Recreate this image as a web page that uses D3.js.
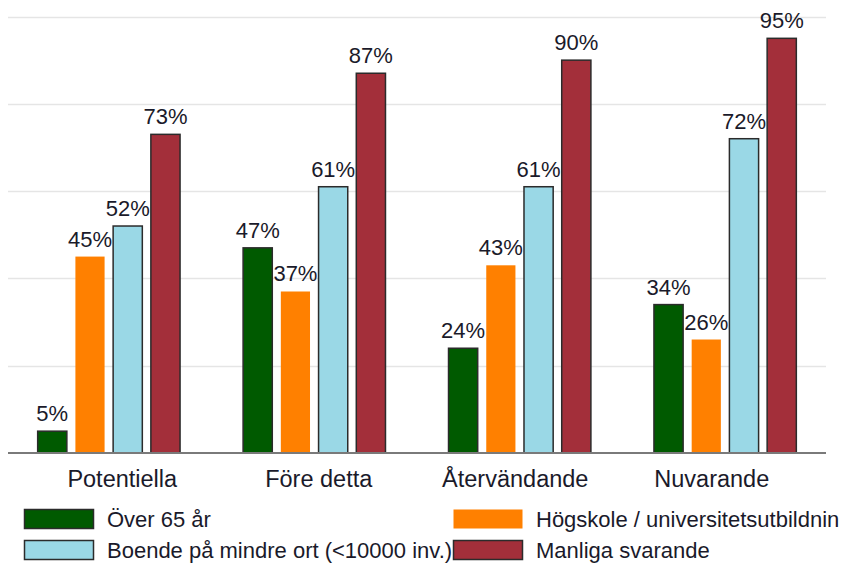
<!DOCTYPE html>
<html>
<head>
<meta charset="utf-8">
<script src="https://cdn.jsdelivr.net/npm/d3@7"></script>
<style>
  html, body { margin: 0; padding: 0; background: #fff; }
  svg { display: block; font-family: "Liberation Sans", Arial, sans-serif; }
</style>
</head>
<body>
<svg id="chart" width="849" height="563"></svg>
<script>
const categories = ["Potentiella", "Före detta", "Återvändande", "Nuvarande"];
const seriesNames = ["Över 65 år", "Högskole / universitetsutbildnin", "Boende på mindre ort (<10000 inv.)", "Manliga svarande"];
const over65 = [5, 47, 24, 34];
const hogskola = [45, 37, 43, 26];
const boende = [52, 61, 61, 72];
const manliga = [73, 87, 90, 95];
const gridTicks = [20, 40, 60, 80, 100];

const seriesValues = [over65, hogskola, boende, manliga];
const colors = ["#005a00", "#ff8000", "#9ad8e6", "#a32f3a"];
const strokes = ["#2b2b2b", "none", "#2b2b2b", "#2b2b2b"];

const svg = d3.select("#chart");
const plotLeft = 8, plotRight = 826, plotTop = 16.5, plotBottom = 453;

const x0 = d3.scaleBand().domain(categories).range([plotLeft, plotRight]).paddingInner(0.302).paddingOuter(0.142);
const x1 = d3.scaleBand().domain(d3.range(seriesNames.length)).range([0, x0.bandwidth()]).paddingInner(0.2);
const xLabel = d3.scaleBand().domain(categories).range([24, 810]);
const y = d3.scaleLinear().domain([0, 100]).range([plotBottom, plotTop]);

// gridlines
svg.append("g").selectAll("line").data(gridTicks).join("line")
  .attr("x1", plotLeft).attr("x2", plotRight)
  .attr("y1", d => Math.round(y(d)) + 0.5).attr("y2", d => Math.round(y(d)) + 0.5)
  .attr("stroke", "#e5e5e5").attr("stroke-width", 1.5);

// bars
const groups = svg.append("g").selectAll("g").data(categories).join("g")
  .attr("transform", c => `translate(${x0(c)},0)`);

groups.each(function(c, ci) {
  const g = d3.select(this);
  seriesValues.forEach((vals, si) => {
    const v = vals[ci];
    g.append("rect")
      .attr("x", x1(si) + 0.5)
      .attr("y", y(v))
      .attr("width", x1.bandwidth() - 1)
      .attr("height", y(0) - y(v))
      .attr("fill", colors[si])
      .attr("stroke", strokes[si])
      .attr("stroke-width", 1.5);
    g.append("text")
      .attr("x", x1(si) + x1.bandwidth() / 2)
      .attr("y", y(v) - 10)
      .attr("text-anchor", "middle")
      .attr("font-size", 22)
      .attr("fill", "#1a1a2a")
      .text(v + "%");
  });
});

// baseline axis
const xAxis = d3.axisBottom(xLabel).tickSize(0).tickPadding(0);
const ax = svg.append("g").attr("transform", `translate(0,${plotBottom})`).call(xAxis);
ax.select(".domain").attr("stroke", "#7a7a7a").attr("stroke-width", 2)
  .attr("d", `M${plotLeft},0H${plotRight}`);
ax.selectAll(".tick text")
  .attr("dy", 0).attr("y", 34)
  .attr("font-size", 23.5).attr("fill", "#1a1a2a")
  .attr("font-family", "'Liberation Sans', Arial, sans-serif");

// legend
const legendPos = [[24, 509], [453, 509], [24, 540], [453, 540]];
const legend = svg.append("g").selectAll("g").data(seriesNames).join("g")
  .attr("transform", (d, i) => `translate(${legendPos[i][0]},${legendPos[i][1]})`);
legend.append("text")
  .attr("x", 83).attr("y", 18)
  .attr("font-size", 22).attr("fill", "#1a1a2a")
  .text(d => d);
legend.append("rect")
  .attr("x", 0.5).attr("y", 0.5).attr("width", 69).attr("height", 19)
  .attr("fill", (d, i) => colors[i])
  .attr("stroke", (d, i) => strokes[i]).attr("stroke-width", 1.5);
</script>
</body>
</html>
